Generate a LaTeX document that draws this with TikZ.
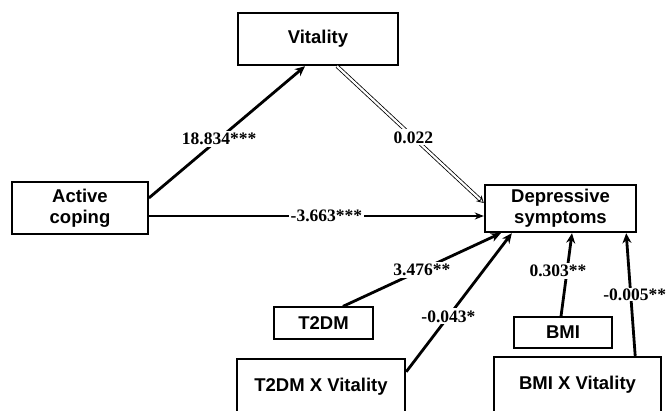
\documentclass[tikz,border=0pt]{standalone}
\usepackage{fontspec}
\setmainfont{Liberation Serif}
\newfontfamily\arialfont{Liberation Sans}
\usetikzlibrary{arrows.meta}
\begin{document}
\begin{tikzpicture}[x=1pt,y=-1pt,
  thickbox/.style={draw, line width=2.4pt, font=\arialfont\bfseries\fontsize{18.5}{21}\selectfont, align=center, inner sep=0pt},
  thinbox/.style={draw, line width=1.3pt, font=\arialfont\bfseries\fontsize{18.5}{21}\selectfont, align=center, inner sep=0pt},
  boldarrow/.style={line width=2.8pt, -{Stealth[length=10pt,width=9pt]}},
  thinarrow/.style={line width=1.4pt, -{Stealth[length=9pt,width=7pt]}},
  dblarrow/.style={double, double distance=2.2pt, line width=0.8pt, -{Stealth[open,length=7pt,width=8pt]}},
  coef/.style={fill=white, inner sep=2pt, font=\bfseries\fontsize{17.5}{19}\selectfont}]
\useasboundingbox (0,0) rectangle (668,410);
\fill[white] (0,0) rectangle (668,410);
\node[thickbox, minimum width=160pt, minimum height=52pt] (vit) at (318,39) {Vitality};
\node[thinbox, minimum width=136pt, minimum height=52pt, line width=1.8pt] (ac) at (80,208) {Active\\coping};
\node[thickbox, minimum width=151pt, minimum height=47pt] (dep) at (560.5,208.5) {Depressive\\symptoms};
\node[thinbox, minimum width=99pt, minimum height=32pt] (t2) at (323.5,323) {T2DM};
\node[thickbox, minimum width=168pt, minimum height=56pt] (t2v) at (321,387) {T2DM X Vitality};
\node[thinbox, minimum width=98pt, minimum height=31pt] (bmi) at (563,332.5) {BMI};
\node[thickbox, minimum width=167pt, minimum height=56pt] (bmiv) at (577.5,385) {BMI X Vitality};

\draw[boldarrow] ([yshift=10pt]ac.east) -- node[coef, pos=0.45] {18.834***} ([xshift=-13pt]vit.south);
\draw[dblarrow] ([xshift=19pt]vit.south) -- node[coef, pos=0.52] {0.022} ([yshift=5.5pt]dep.west);
\draw[thinarrow] ([yshift=-8pt]ac.east) -- node[coef, pos=0.53] {-3.663***} ([yshift=-7.5pt]dep.west);
\draw[boldarrow] ([xshift=19.5pt]t2.north) -- node[coef, pos=0.5] {3.476**} ([xshift=17pt]dep.south west);
\draw[boldarrow] ([yshift=-14pt]t2v.north east) -- node[coef, pos=0.4] {-0.043*} ([xshift=28pt]dep.south west);
\draw[boldarrow] ([xshift=-2pt]bmi.north) -- node[coef, pos=0.55, xshift=-9pt] {0.303**} ([xshift=11.5pt]dep.south);
\draw[boldarrow] ([xshift=-27pt]bmiv.north east) -- node[coef, pos=0.5, xshift=4pt, inner sep=1pt] {-0.005**} ([xshift=-11pt]dep.south east);
\end{tikzpicture}
\end{document}
